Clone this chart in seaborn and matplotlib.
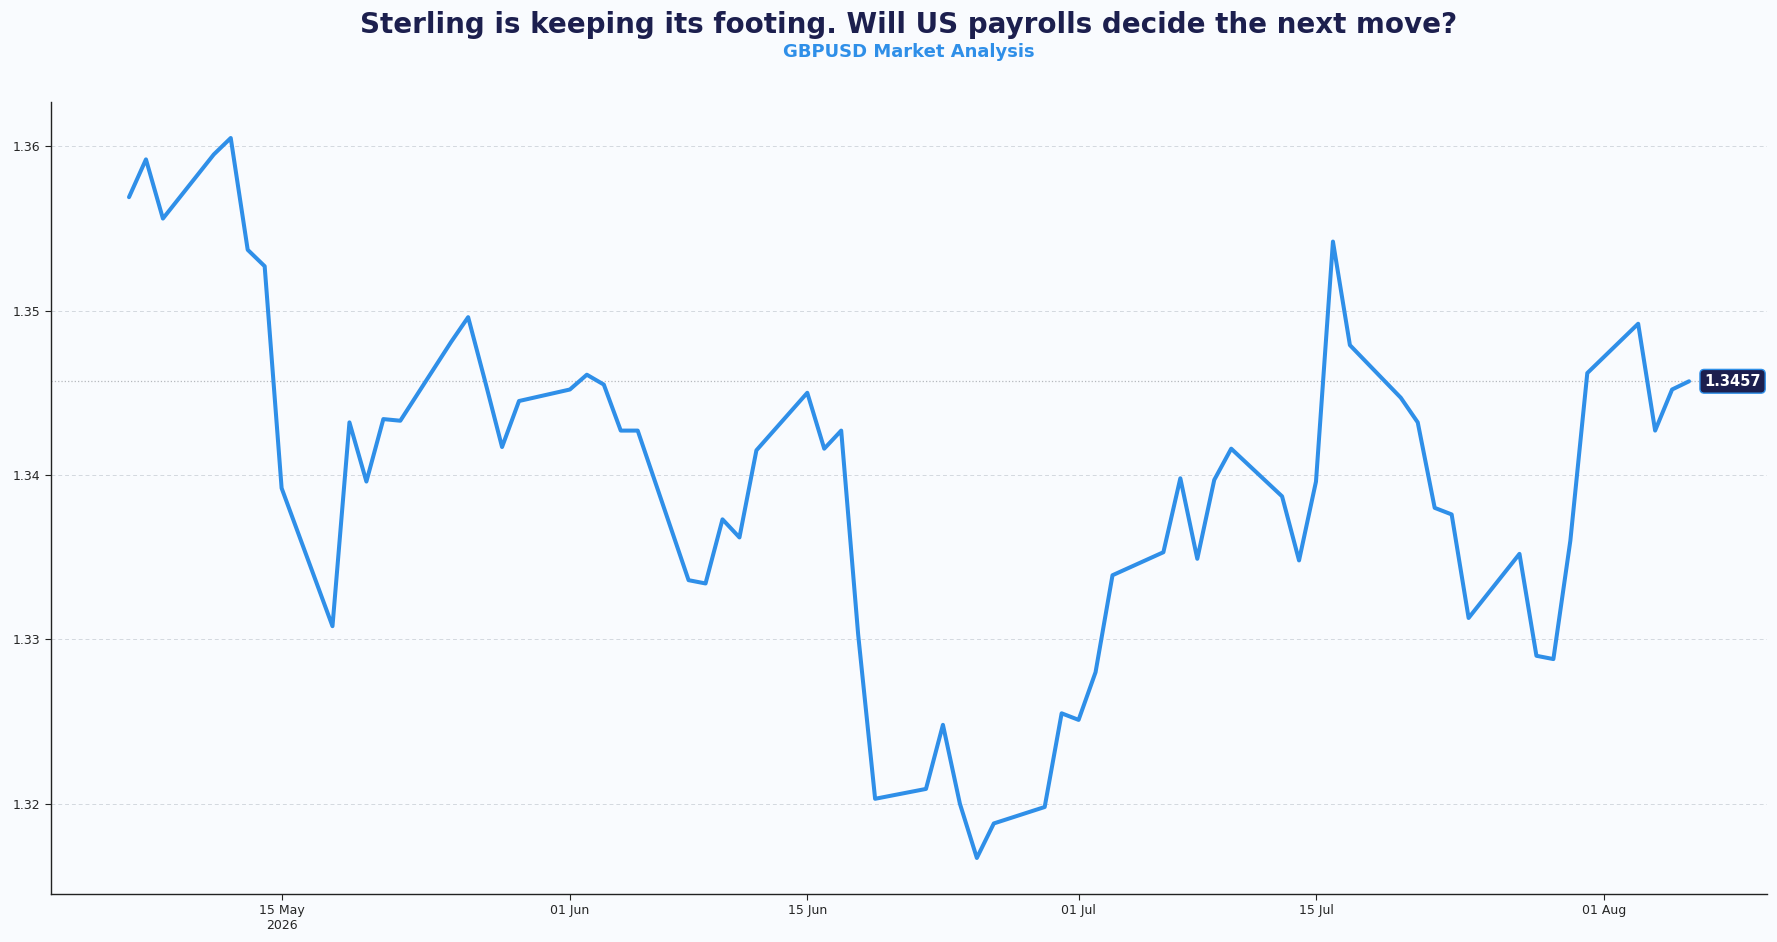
import pandas as pd
import seaborn as sns
import matplotlib.pyplot as plt
import matplotlib.dates as mdates
from matplotlib.ticker import FuncFormatter

# GBPUSD daily closes (business days)
start_date = '2026-05-06'
end_date = '2026-08-06'
closes = [
    # May
    1.3569, 1.3592, 1.3556, 1.3595, 1.3605, 1.3537, 1.3527, 1.3392, 1.3308, 1.3432,
    1.3396, 1.3434, 1.3433, 1.3481, 1.3496, 1.3457, 1.3417, 1.3445,
    # June
    1.3452, 1.3461, 1.3455, 1.3427, 1.3427, 1.3336, 1.3334, 1.3373, 1.3362, 1.3415,
    1.3450, 1.3416, 1.3427, 1.3303, 1.3203, 1.3209, 1.3248, 1.3200, 1.3167, 1.3188,
    1.3198, 1.3255,
    # July
    1.3251, 1.3280, 1.3339, 1.3353, 1.3398, 1.3349, 1.3397, 1.3416, 1.3387, 1.3348,
    1.3396, 1.3542, 1.3479, 1.3447, 1.3432, 1.3380, 1.3376, 1.3313, 1.3352, 1.3290,
    1.3288, 1.3360, 1.3462,
    # August
    1.3492, 1.3427, 1.3452, 1.3457,
]
last_label = '1.3457'

title = 'Sterling is keeping its footing. Will US payrolls decide the next move?'
subtitle = 'GBPUSD Market Analysis'

dates = pd.bdate_range(start_date, end_date)
df = pd.DataFrame({'date': dates, 'close': closes})

BG = '#f9fbfe'
LINE = '#2f8fe8'
NAVY = '#1c1f4e'

sns.set_style('white')
plt.rcParams['font.family'] = ['DejaVu Sans']

fig = plt.figure(figsize=(17.77, 9.42), dpi=100, facecolor=BG)
ax = fig.add_axes([0.0287, 0.051, 0.9657, 0.8407])
ax.set_facecolor(BG)

sns.lineplot(data=df, x='date', y='close', color=LINE, linewidth=2.9, ax=ax)

# horizontal grid and last-value guide
ax.yaxis.grid(True, linestyle=(0, (4, 3)), color='#d3d8df', linewidth=0.7)
ax.set_axisbelow(True)
last_date = df['date'].iloc[-1]
last_val = df['close'].iloc[-1]
ax.axhline(last_val, color='#b5b8bd', linestyle=':', linewidth=0.9, zorder=1)
ax.annotate(last_label, xy=(last_date, last_val), xytext=(11, 0),
            textcoords='offset points', ha='left', va='center',
            fontsize=10.5, fontweight='bold', color='white',
            bbox=dict(boxstyle='round,pad=0.3', facecolor=NAVY,
                      edgecolor=LINE, linewidth=1.0))

# x axis: ticks on the 1st and 15th, year under the first
ax.xaxis.set_major_locator(mdates.DayLocator(bymonthday=[1, 15]))

def date_fmt(x, pos):
    d = mdates.num2date(x)
    if pos == 0:
        return d.strftime('%d %b\n%Y')
    return d.strftime('%d %b')

ax.xaxis.set_major_formatter(FuncFormatter(date_fmt))
ax.set_yticks([1.32, 1.33, 1.34, 1.35, 1.36])
ax.yaxis.set_major_formatter(FuncFormatter(lambda v, p: f'{v:.2f}'))
ax.tick_params(axis='both', labelsize=9, length=4, color='#222222', left=True, bottom=True)
ax.set_xlabel('')
ax.set_ylabel('')
sns.despine(ax=ax)
for s in ['left', 'bottom']:
    ax.spines[s].set_color('#222222')
    ax.spines[s].set_linewidth(1.0)

# titles centred over the plot area
cx = 0.0287 + 0.9657 / 2
fig.text(cx, 0.9735, title, ha='center', va='center', fontsize=20,
         fontweight='bold', color=NAVY)
fig.text(cx, 0.9447, subtitle, ha='center', va='center', fontsize=13,
         fontweight='bold', color=LINE)

fig.savefig('out.png', dpi=100, facecolor=BG)
